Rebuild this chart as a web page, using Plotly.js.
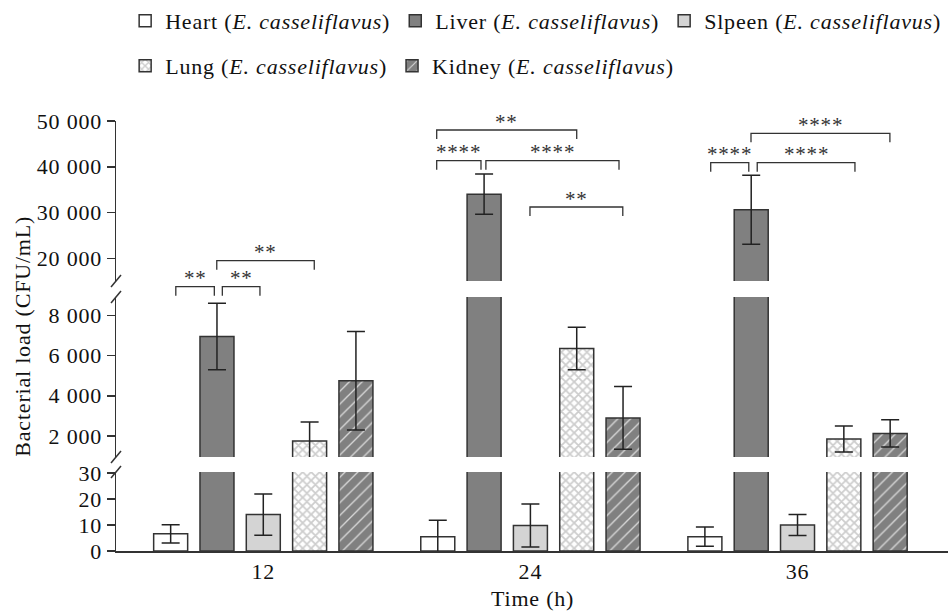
<!DOCTYPE html>
<html><head><meta charset="utf-8">
<script src="https://cdn.plot.ly/plotly-3.0.1.min.js"></script>
<style>html,body{margin:0;padding:0;background:#fff}#chart{width:950px;height:611px}svg text{letter-spacing:0.8px}</style>
</head><body><div id="chart"></div>
<script>
// ---- data ----
const times = [12, 24, 36];
const organNames = ['Heart', 'Liver', 'Slpeen', 'Lung', 'Kidney'];
const heart = [6.6, 5.5, 5.5];
const heartErr = [3.5, 6.3, 3.7];
const liver = [6950, 34000, 30600];
const liverErr = [1650, 4400, 7550];
const spleen = [14, 9.8, 10];
const spleenErr = [7.9, 8.3, 4];
const lung = [1750, 6350, 1850];
const lungErr = [950, 1060, 650];
const kidney = [4750, 2900, 2130];
const kidneyErr = [2450, 1560, 680];
const lowTicks = [0, 10, 20, 30];
const midTicks = [2000, 4000, 6000, 8000];
const highTicks = [20000, 30000, 40000, 50000];
// significance brackets (annotation): x in time units, line height in px from top
const sigX0 = [8.07, 10.16, 9.91, 19.79, 19.79, 22.00, 23.98, 33.91, 32.10, 34.19];
const sigX1 = [9.80, 11.85, 14.29, 26.08, 21.78, 27.98, 28.15, 40.15, 33.81, 38.58];
const sigLabels = ['**', '**', '**', '**', '****', '****', '**', '****', '****', '****'];
const sigLinePx = [286.7, 286.7, 260.7, 130, 160.7, 160.7, 207, 133.3, 162.7, 162.7];

// ---- geometry ----
const W = 950, H = 611, ML = 116, MR = 2, MT = 121, MB = 60;
const plotH = H - MT - MB;
const py = p => (H - MB - p) / plotH; // pixel y -> paper y
const FONT = 'Liberation Serif, Times New Roman, serif';
const FS = 22;
const fmt = v => String(v).replace(/\B(?=(\d{3})+(?!\d))/g, ' ');

const series = [
  {name: 'Heart', y: heart, e: heartErr, color: '#ffffff', pattern: null, legend: 'legend'},
  {name: 'Liver', y: liver, e: liverErr, color: '#808080', pattern: null, legend: 'legend'},
  {name: 'Slpeen', y: spleen, e: spleenErr, color: '#d4d4d4', pattern: null, legend: 'legend'},
  {name: 'Lung', y: lung, e: lungErr, color: '#ffffff',
   pattern: {shape: 'x', fgcolor: '#cdcdcd', bgcolor: '#ffffff', size: 6, solidity: 0.5}, legend: 'legend2'},
  {name: 'Kidney', y: kidney, e: kidneyErr, color: '#808080',
   pattern: {shape: '/', fgcolor: '#d8d8d8', bgcolor: '#808080', size: 9, solidity: 0.15}, legend: 'legend2'}
];

const traces = [];
['y', 'y2', 'y3'].forEach((ax, k) => {
  series.forEach(s => {
    const marker = {color: s.color, line: {color: '#333333', width: 1.5}};
    if (s.pattern) marker.pattern = Object.assign({fillmode: 'replace'}, s.pattern);
    traces.push({
      type: 'bar', x: times, y: s.y, yaxis: ax, xaxis: 'x',
      name: s.name + ' (<i>E. casseliflavus</i>)',
      legend: s.legend, legendgroup: s.name, showlegend: k === 0,
      marker: marker,
      error_y: {type: 'data', array: s.e, visible: true, color: '#222222', thickness: 1.5, width: 9},
      hoverinfo: 'x+y'
    });
  });
});

const yBase = {
  anchor: 'x', showline: true, linecolor: '#333333', linewidth: 1.5,
  ticks: 'outside', ticklen: 8, tickwidth: 1.5, tickcolor: '#333333',
  showgrid: false, zeroline: false, tickmode: 'array',
  tickfont: {family: FONT, size: FS, color: '#111111'}
};

const shapes = [];
const annotations = [];
// axis break marks
[281, 297, 457, 472].forEach(p => {
  shapes.push({type: 'line', xref: 'paper', yref: 'paper', xsizemode: 'pixel', ysizemode: 'pixel',
    xanchor: 0, yanchor: py(p), x0: -5, x1: 5, y0: -6, y1: 6,
    line: {color: '#333333', width: 1.5}});
});
// significance brackets
sigLabels.forEach((lab, i) => {
  const yl = py(sigLinePx[i]), yd = py(sigLinePx[i] + 9);
  shapes.push({type: 'path', xref: 'x', yref: 'paper',
    path: `M${sigX0[i]},${yd} L${sigX0[i]},${yl} L${sigX1[i]},${yl} L${sigX1[i]},${yd}`,
    line: {color: '#333333', width: 1.3}});
  annotations.push({xref: 'x', yref: 'paper', x: (sigX0[i] + sigX1[i]) / 2, y: yl,
    yanchor: 'middle', xanchor: 'center', yshift: 8.5, showarrow: false, text: lab,
    font: {family: FONT, size: 21, color: '#333333'}});
});
annotations.push({xref: 'paper', yref: 'paper', x: 0.5, y: py(598), xanchor: 'center', yanchor: 'middle',
  showarrow: false, text: 'Time (h)', font: {family: FONT, size: FS, color: '#111111'}});
annotations.push({xref: 'paper', yref: 'paper', x: (21.7 - ML) / (W - ML - MR), y: py(336),
  xanchor: 'center', yanchor: 'middle', textangle: -90, showarrow: false,
  text: 'Bacterial load (CFU/mL)', font: {family: FONT, size: FS, color: '#111111'}});

const legendBase = {orientation: 'h', x: 0.011, xanchor: 'left', yanchor: 'middle',
  bgcolor: 'rgba(0,0,0,0)', font: {family: FONT, size: FS, color: '#111111'}, traceorder: 'normal'};

const layout = {
  width: W, height: H, margin: {l: ML, r: MR, t: MT, b: MB, autoexpand: false},
  paper_bgcolor: '#ffffff', plot_bgcolor: '#ffffff',
  font: {family: FONT, color: '#111111'},
  barmode: 'group', bargap: 0.133, bargroupgap: 0.266,
  showlegend: true,
  legend: Object.assign({}, legendBase, {y: py(21)}),
  legend2: Object.assign({}, legendBase, {y: py(66)}),
  xaxis: {type: 'linear', range: [5.383, 42.76], tickmode: 'array', tickvals: times,
    ticktext: times.map(String), ticks: '', showline: true, linecolor: '#333333', linewidth: 1.5,
    showgrid: false, zeroline: false, anchor: 'y',
    tickfont: {family: FONT, size: FS, color: '#111111'}},
  yaxis: Object.assign({}, yBase, {domain: [0, py(472)], range: [0, 30.38],
    tickvals: lowTicks, ticktext: lowTicks.map(fmt)}),
  yaxis2: Object.assign({}, yBase, {domain: [py(457), py(297)], range: [955, 8915],
    tickvals: midTicks, ticktext: midTicks.map(fmt)}),
  yaxis3: Object.assign({}, yBase, {domain: [py(281), 1], range: [15040, 50000],
    tickvals: highTicks, ticktext: highTicks.map(fmt)}),
  shapes: shapes,
  annotations: annotations
};

Plotly.newPlot('chart', traces, layout, {displayModeBar: false, staticPlot: true});
</script>
</body></html>
